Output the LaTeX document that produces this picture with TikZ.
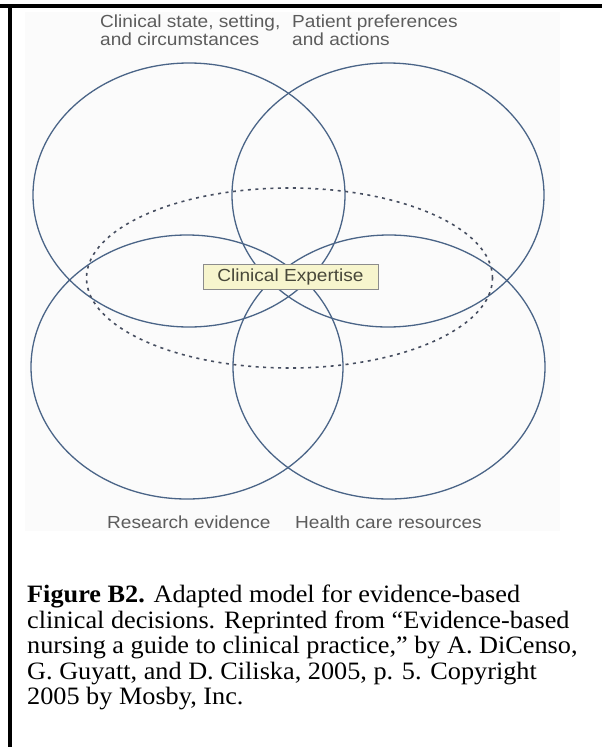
\documentclass[tikz,border=0pt]{standalone}
\usepackage{fontspec}
\setmainfont{Liberation Serif}
\newfontfamily\capfont[FakeStretch=1.05]{Liberation Serif}
\newfontfamily\labelfont[FakeStretch=1.09]{Liberation Sans}
\usetikzlibrary{shapes.geometric}

\definecolor{ringcol}{RGB}{74,100,135}
\definecolor{dashcol}{RGB}{70,78,96}
\definecolor{labelcol}{RGB}{92,92,92}
\definecolor{boxfill}{RGB}{247,245,205}
\definecolor{boxline}{RGB}{140,140,140}
\definecolor{boxtext}{RGB}{72,72,58}
\definecolor{paper}{RGB}{251,251,251}

\tikzset{
  domainring/.style={ellipse, draw=ringcol, line width=1.3pt, inner sep=0pt,
    minimum width=312pt, minimum height=264pt},
  expertring/.style={ellipse, draw=dashcol, line width=1.6pt, inner sep=0pt,
    dash pattern=on 3pt off 4.5pt, minimum width=406pt, minimum height=180pt},
  domainlabel/.style={inner sep=0pt, text=labelcol, align=left,
    font={\labelfont\fontsize{17.5}{18}\selectfont}},
  expertbox/.style={draw=boxline, fill=boxfill, line width=0.8pt, inner sep=0pt,
    minimum width=175pt, minimum height=25pt, text=boxtext,
    font={\labelfont\fontsize{17.5}{18}\selectfont}},
  captiontext/.style={inner sep=0pt, align=left,
    font={\capfont\fontsize{25}{25.5}\selectfont}},
  frameline/.style={line width=3.4pt, black}
}

\begin{document}
\begin{tikzpicture}[x=1pt, y=-1pt]
  \useasboundingbox (0,0) rectangle (602,747);
  \fill[white] (0,0) rectangle (602,747);

  % scanned figure area
  \fill[paper] (25,12) rectangle (560,531);

  % frame rules
  \coordinate (topL) at (0,6);
  \coordinate (topR) at (602,6);
  \coordinate (sideT) at (10,6);
  \coordinate (sideB) at (10,747);
  \draw[frameline] (topL) -- (topR);
  \draw[frameline] (sideT) -- (sideB);

  % the four overlapping domains
  \node[domainring] (state)     at (189,195) {};
  \node[domainring] (prefs)     at (388,195) {};
  \node[domainring] (research)  at (187,367) {};
  \node[domainring] (resources) at (389,367) {};

  % clinical expertise ring
  \node[expertring] (expert) at (289.5,278) {};
  \node[expertbox] (expertise) at (290.5,276.5) {Clinical Expertise};

  % domain labels
  \node[domainlabel, anchor=north west] (stateL) at (100,15)
    {Clinical state, setting,\\and circumstances};
  \node[domainlabel, anchor=north west] (prefsL) at (292,15)
    {Patient preferences\\and actions};
  \node[domainlabel, anchor=base west] (researchL) at (107,528) {Research evidence};
  \node[domainlabel, anchor=base west] (resourcesL) at (295,528) {Health care resources};

  % caption
  \node[captiontext, anchor=north west] (cap) at (27,585)
    {\textbf{Figure B2.} Adapted model for evidence-based\\
     clinical decisions. Reprinted from “Evidence-based\\
     nursing a guide to clinical practice,” by A. DiCenso,\\
     G. Guyatt, and D. Ciliska, 2005, p. 5. Copyright\\
     2005 by Mosby, Inc.};
\end{tikzpicture}
\end{document}
